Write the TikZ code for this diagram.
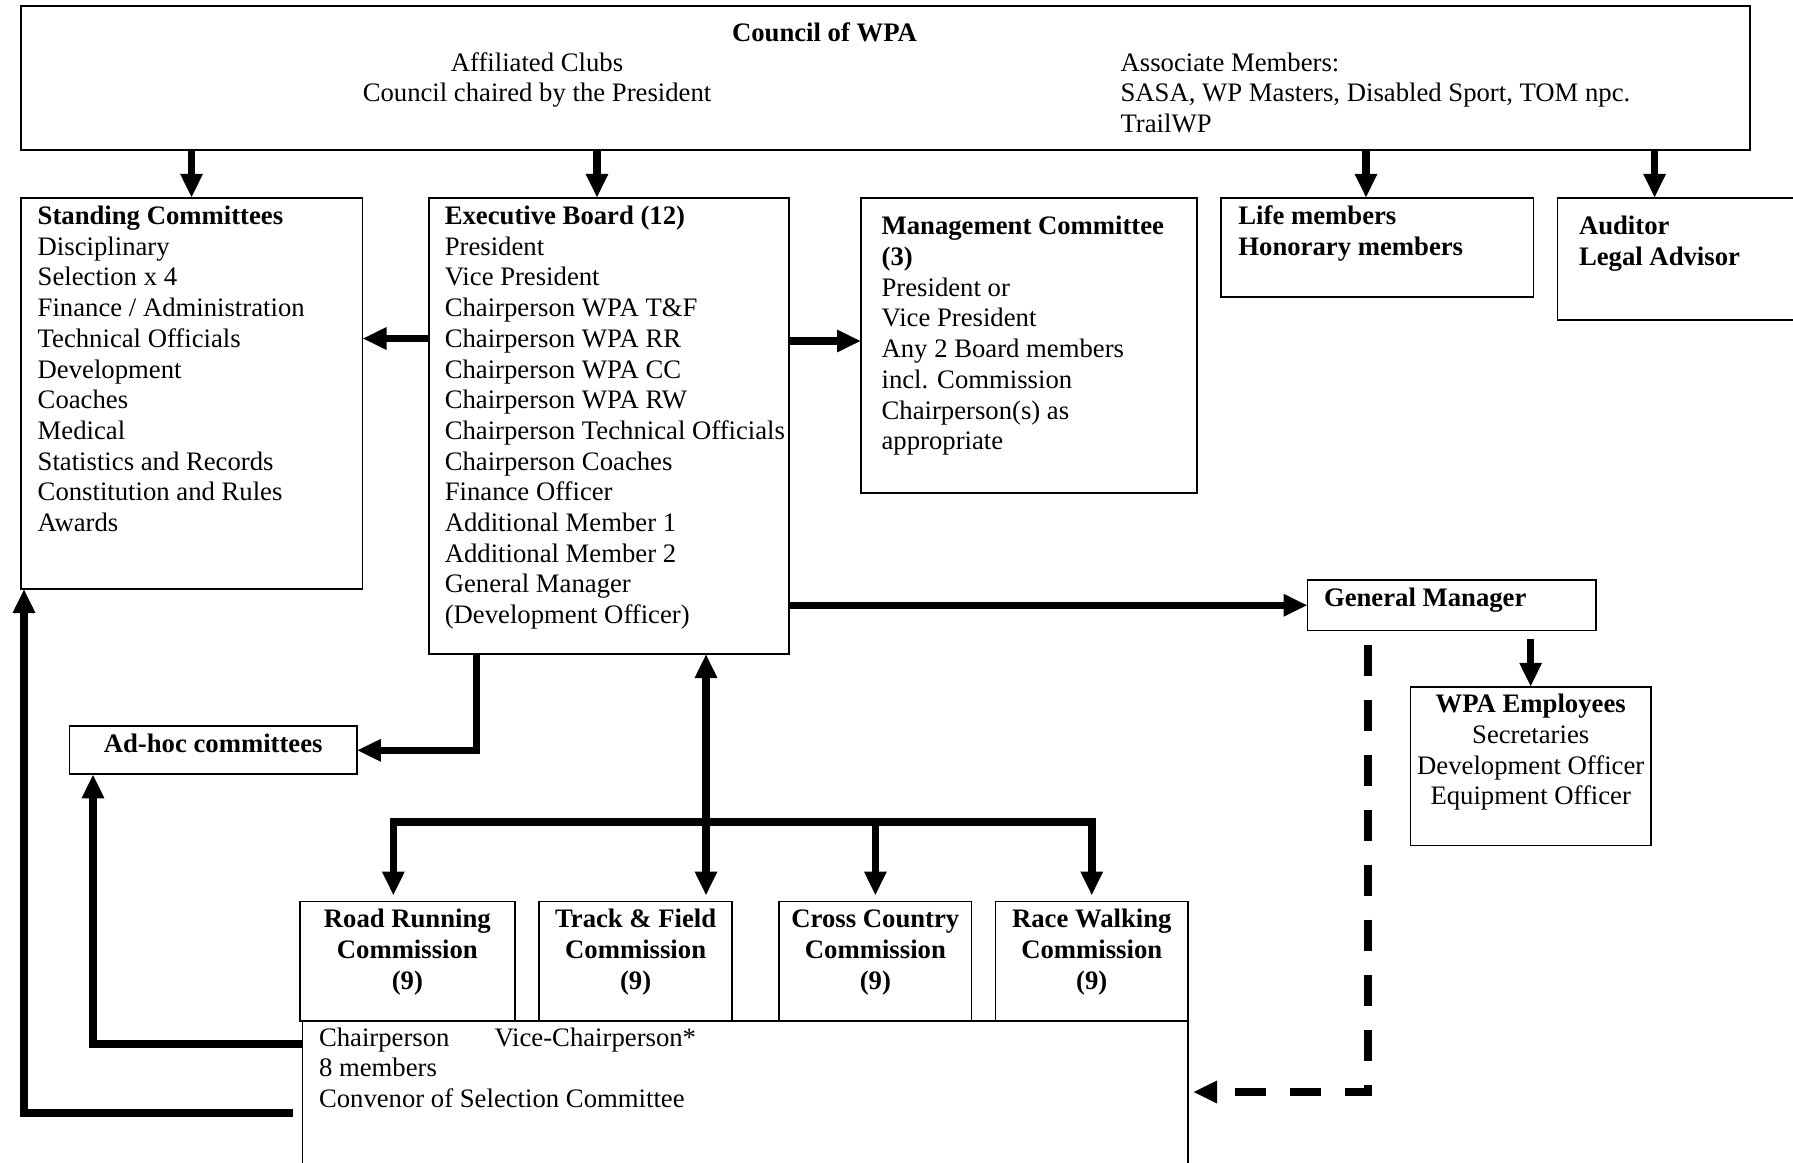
\documentclass[tikz,border=0pt]{standalone}
\usepackage{fontspec}
\setmainfont{Liberation Serif}
\usetikzlibrary{arrows.meta,calc}
\begin{document}
\begin{tikzpicture}[x=1pt,y=-1pt,
  box/.style={draw, line width=1.8pt, inner sep=0pt, outer sep=0pt, anchor=north west},
  txt/.style={inner sep=0pt, outer sep=0pt, font=\fontsize{26.7}{30.7}\selectfont, align=left},
  arr/.style={line width=7.5pt, -{Triangle[length=24pt,width=21pt]}},
  darr/.style={line width=7.5pt, {Triangle[length=24pt,width=21pt]}-{Triangle[length=24pt,width=21pt]}},
  dasharr/.style={line width=7.5pt, dash pattern=on 31pt off 24pt, -{Triangle[length=24pt,width=21pt]}}]
\fill[white] (0,0) rectangle (1793,1162);
\useasboundingbox (0,0) rectangle (1793,1162);
% boxes
\node[box, minimum width=1729pt, minimum height=144.1pt] (council) at (20.6,5.7) {};
\node[box, minimum width=341.9pt, minimum height=391.2pt] (standing) at (20.6,197.8) {};
\node[box, minimum width=360.2pt, minimum height=456.2pt] (exec) at (428.8,197.8) {};
\node[box, minimum width=336pt, minimum height=295pt] (mgmt) at (861,197.8) {};
\node[box, minimum width=312.4pt, minimum height=99.5pt] (life) at (1221,197.8) {};
\node[box, minimum width=252.6pt, minimum height=122.2pt] (auditor) at (1557.4,197.8) {};
\node[box, minimum width=288.5pt, minimum height=50.5pt] (gm) at (1307.5,580) {};
\node[box, minimum width=240.3pt, minimum height=158.7pt] (emp) at (1410.5,686.8) {};
\node[box, minimum width=287.4pt, minimum height=48pt] (adhoc) at (69.5,726.3) {};
\node[box, minimum width=215.3pt, minimum height=119.5pt] (road) at (299.7,901.5) {};
\node[box, minimum width=192.7pt, minimum height=119.5pt] (track) at (539.3,901.5) {};
\node[box, minimum width=192.2pt, minimum height=119.5pt] (cross) at (779.3,901.5) {};
\node[box, minimum width=192.5pt, minimum height=119.5pt] (race) at (995.5,901.5) {};
\node[box, minimum width=885.5pt, minimum height=164pt] (bottom) at (302.5,1021) {};
% texts
\node[txt, anchor=base] (councilT) at (824.5,41.5) {\textbf{Council of WPA}};
\node[txt, anchor=north, align=center] (affT) at (537,49.8) {\strut Affiliated Clubs\\Council chaired by the President};
\node[txt, anchor=north west] (assocT) at (1120.6,49.8) {\strut Associate Members:\\SASA, WP Masters, Disabled Sport, TOM npc.\\TrailWP};
\node[txt, anchor=north west] (standingT) at (37.7,203.1) {\strut\textbf{Standing Committees}\\Disciplinary\\Selection x 4\\Finance / Administration\\Technical Officials\\Development\\Coaches\\Medical\\Statistics and Records\\Constitution and Rules\\Awards};
\node[txt, anchor=north west] (execT) at (444.8,203.1) {\strut\textbf{Executive Board (12)}\\President\\Vice President\\Chairperson WPA T\&F\\Chairperson WPA RR\\Chairperson WPA CC\\Chairperson WPA RW\\Chairperson Technical Officials\\Chairperson Coaches\\Finance Officer\\Additional Member 1\\Additional Member 2\\General Manager\\(Development Officer)};
\node[txt, anchor=north west] (mgmtT) at (881.6,213.4) {\strut\textbf{Management Committee}\\\textbf{(3)}\\President or\\Vice President\\Any 2 Board members\\incl. Commission\\Chairperson(s) as\\appropriate};
\node[txt, anchor=north west] (lifeT) at (1238.4,203.1) {\strut\textbf{Life members}\\\textbf{Honorary members}};
\node[txt, anchor=north west] (auditorT) at (1579,213.4) {\strut\textbf{Auditor}\\\textbf{Legal Advisor}};
\node[txt, anchor=base west] (gmT) at (1324,606.5) {\textbf{General Manager}};
\node[txt, anchor=base] (adhocT) at (213.2,752.5) {\textbf{Ad-hoc committees}};
\node[txt, anchor=north, align=center] (empT) at (1530.7,691.1) {\strut\textbf{WPA Employees}\\Secretaries\\Development Officer\\Equipment Officer};
\node[txt, anchor=north, align=center] (roadT) at (407.35,906.1) {\strut\textbf{Road Running}\\\textbf{Commission}\\\textbf{(9)}};
\node[txt, anchor=north, align=center] (trackT) at (635.65,906.1) {\strut\textbf{Track \& Field}\\\textbf{Commission}\\\textbf{(9)}};
\node[txt, anchor=north, align=center] (crossT) at (875.4,906.1) {\strut\textbf{Cross Country}\\\textbf{Commission}\\\textbf{(9)}};
\node[txt, anchor=north, align=center] (raceT) at (1091.75,906.1) {\strut\textbf{Race Walking}\\\textbf{Commission}\\\textbf{(9)}};
\node[txt, anchor=north west] (bottomT) at (319,1024.6) {\strut Chairperson\hspace{45pt}Vice-Chairperson*\\8 members\\Convenor of Selection Committee};
% helper coordinates
\coordinate (c1) at (597,0);
\coordinate (c2) at (1366,0);
\coordinate (c3) at (1654.6,0);
\coordinate (yS) at (0,338.5);
\coordinate (yM) at (0,341);
\coordinate (xA) at (476.5,751);
\coordinate (xB) at (706,822);
\coordinate (xC) at (1368,1092);
\coordinate (xD) at (93,1044);
\coordinate (xE) at (24,1113);
\coordinate (xF) at (293,1113);
% connectors
\draw[arr] (council.south -| standing.north) -- (standing.north);
\draw[arr] (council.south -| c1) -- (exec.north -| c1);
\draw[arr] (council.south -| c2) -- (life.north -| c2);
\draw[arr] (council.south -| c3) -- (auditor.north -| c3);
\draw[arr] (exec.west |- yS) -- (standing.east |- yS);
\draw[arr] (exec.east |- yM) -- (mgmt.west |- yM);
\draw[arr] (exec.east |- gm.west) -- (gm.west);
\draw[arr, shorten <=8pt] (gm.south -| emp.north) -- (emp.north);
\draw[dasharr, shorten <=14pt, shorten >=5pt] (gm.south -| xC) -- (xC) -- (bottom.east |- xC);
\draw[arr] (exec.south -| xA) |- (adhoc.east);
\draw[darr, shorten >=6pt] (exec.south -| xB) -- (track.north -| xB);
\draw[arr, shorten >=6pt] (xB) -| ([xshift=-14pt]road.north);
\draw[arr, shorten >=6pt] (xB) -| (race.north);
\draw[arr, shorten >=6pt] (xB -| cross.north) -- (cross.north);
\draw[arr] (bottom.west |- xD) -| (adhoc.south -| xD);
\draw[arr] (xF) -| (standing.south -| xE);
\end{tikzpicture}
\end{document}
